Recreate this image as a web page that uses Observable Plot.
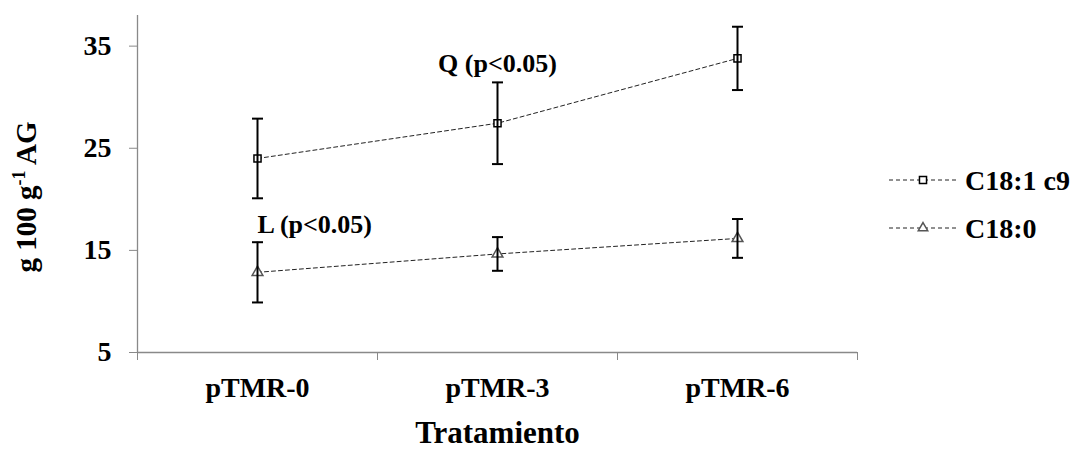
<!DOCTYPE html>
<html><head><meta charset="utf-8">
<script src="https://cdn.jsdelivr.net/npm/d3@7"></script>
<script src="https://cdn.jsdelivr.net/npm/@observablehq/plot@0.6"></script>
<style>
body{margin:0;background:#fff;}
#wrap{position:relative;width:1076px;height:454px;}
#wrap svg text{font-family:"Liberation Serif","Times New Roman",serif !important;font-weight:bold;}
</style></head><body><div id="wrap"></div>
<script>
const treatments = ["pTMR-0", "pTMR-3", "pTMR-6"];
const seriesNames = ["C18:1 c9", "C18:0"];
const c181Mean = [24.0, 27.45, 33.8];
const c181Err = [3.9, 4.0, 3.1];
const c180Mean = [12.85, 14.65, 16.17];
const c180Err = [2.95, 1.65, 1.9];
const yTicks = [5, 15, 25, 35];
const yDomain = [5, 38];
const xTitle = "Tratamiento";
const annotQ = [{label: "Q (p<0.05)", treatment: "pTMR-3", value: 33.25}];
const annotL = [{label: "L (p<0.05)", treatment: "pTMR-0", value: 17.5}];

const FONT = '"Liberation Serif", "Times New Roman", serif';
const means = [c181Mean, c180Mean];
const errs = [c181Err, c180Err];
const rows = [];
seriesNames.forEach((s, si) => {
  treatments.forEach((t, i) => {
    rows.push({series: s, treatment: t, pos: i + 0.5, mean: means[si][i],
      lo: means[si][i] - errs[si][i], hi: means[si][i] + errs[si][i]});
  });
});
const tpos = d => treatments.indexOf(d.treatment) + 0.5;

const capSymbol = {draw(ctx) { ctx.moveTo(-5.5, 0); ctx.lineTo(5.5, 0); }};

const chart = Plot.plot({
  width: 1076, height: 454,
  marginLeft: 137, marginRight: 219, marginTop: 15, marginBottom: 102,
  style: {fontFamily: FONT, fontWeight: "bold", background: "#fff", color: "#000"},
  x: {type: "linear", domain: [0, treatments.length]},
  y: {domain: yDomain},
  symbol: {domain: seriesNames, range: ["square", "triangle"]},
  color: {domain: seriesNames, range: ["#000000", "#555555"]},
  marks: [
    Plot.ruleY([yDomain[0]], {stroke: "#898989", strokeWidth: 1.3}),
    Plot.ruleX([0], {stroke: "#898989", strokeWidth: 1.3}),
    Plot.axisY({ticks: yTicks, tickSize: 8, tickPadding: 18, stroke: "#898989", fill: "#000",
      fontSize: 28, fontFamily: FONT, label: null}),
    Plot.axisX({ticks: d3.range(treatments.length + 1), tickSize: 8, tickFormat: () => "",
      stroke: "#898989", label: null}),
    Plot.axisX({ticks: treatments.map((t, i) => i + 0.5), tickSize: 0, tickPadding: 25,
      tickFormat: d => treatments[Math.floor(d)], fill: "#000", fontSize: 28, fontFamily: FONT, label: null}),
    Plot.text([xTitle], {frameAnchor: "bottom", dy: 90, fontSize: 31, fontFamily: FONT, fill: "#000"}),
    Plot.line(rows, {x: "pos", y: "mean", z: "series", stroke: "#222", strokeWidth: 1,
      strokeDasharray: "4,3"}),
    Plot.dot(rows, {x: "pos", y: "mean", symbol: "series", stroke: "series", fill: "#fff",
      r: 4, strokeWidth: 1.5}),
    Plot.ruleX(rows, {x: "pos", y1: "lo", y2: "hi", stroke: "#000", strokeWidth: 2}),
    Plot.dot(rows, {x: "pos", y: "hi", symbol: capSymbol, stroke: "#000", strokeWidth: 2, fill: "none"}),
    Plot.dot(rows, {x: "pos", y: "lo", symbol: capSymbol, stroke: "#000", strokeWidth: 2, fill: "none"}),
    Plot.text(annotQ, {x: tpos, y: "value", text: "label", textAnchor: "middle", fontSize: 26, fontFamily: FONT, fill: "#000"}),
    Plot.text(annotL, {x: tpos, y: "value", text: "label", textAnchor: "start", fontSize: 26, fontFamily: FONT, fill: "#000"})
  ]
});
document.getElementById("wrap").appendChild(chart);

const svg = d3.select(chart);
// Y axis title with superscript
const yt = svg.append("text")
  .attr("transform", "translate(36,197) rotate(-90)")
  .attr("text-anchor", "middle")
  .attr("font-family", FONT).attr("font-weight", "bold").attr("font-size", 29).attr("fill", "#000");
yt.append("tspan").text("g 100 g");
yt.append("tspan").attr("font-size", 18).attr("dy", -11).text("-1");
yt.append("tspan").attr("dy", 11).text(" AG");

// Legend
const legendSymbols = [d3.symbolSquare, d3.symbolTriangle2 || d3.symbolTriangle];
const legendColors = ["#000000", "#555555"];
const legendY = [180, 228];
const lg = svg.append("g");
seriesNames.forEach((s, i) => {
  const g = lg.append("g").attr("transform", `translate(0,${legendY[i]})`);
  g.append("line").attr("x1", 889).attr("x2", 957).attr("y1", 0).attr("y2", 0)
    .attr("stroke", "#222").attr("stroke-width", 1).attr("stroke-dasharray", "4,3");
  g.append("path").attr("d", d3.symbol(legendSymbols[i], i === 0 ? 50 : 64)())
    .attr("transform", "translate(923,0)").attr("fill", "#fff")
    .attr("stroke", legendColors[i]).attr("stroke-width", 1.5);
  g.append("text").attr("x", 965).attr("y", 0).attr("dy", "0.35em")
    .attr("text-anchor", "start")
    .attr("font-family", FONT).attr("font-weight", "bold").attr("font-size", 28)
    .attr("fill", "#000").text(s);
});
</script>
</body></html>
